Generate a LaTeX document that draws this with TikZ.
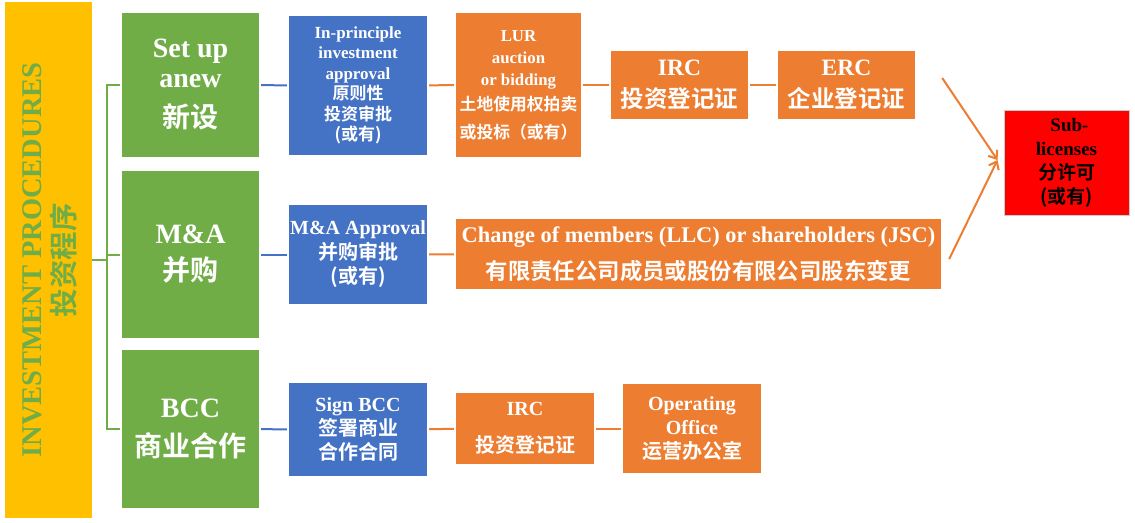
\documentclass[tikz,border=0pt]{standalone}
\usepackage{fontspec}
\setmainfont{Liberation Serif}
\newfontfamily\cjk{Noto Sans CJK SC}[BoldFont=* Bold]
\usetikzlibrary{arrows.meta,calc}
\definecolor{procyellow}{HTML}{FFC000}
\definecolor{stepgreen}{HTML}{70AD47}
\definecolor{stepblue}{HTML}{4472C4}
\definecolor{steporange}{HTML}{ED7D31}
\newcommand{\zh}[1]{{\cjk #1}}

\begin{document}
\begin{tikzpicture}[x=1pt,y=-1pt,
  box/.style={rectangle,inner sep=0pt,align=center,text=white},
  greenbox/.style={box,fill=stepgreen,minimum width=137pt,font=\bfseries\fontsize{28}{30}\selectfont},
  bluebox/.style={box,fill=stepblue,minimum width=138pt,font=\bfseries\fontsize{20}{24}\selectfont},
  orangebox/.style={box,fill=steporange,font=\bfseries\fontsize{20}{24}\selectfont},
  tree/.style={draw=stepgreen,line width=2pt,shorten >=2pt},
  bline/.style={draw=stepblue,line width=2pt,shorten >=2pt,shorten <=2pt},
  oline/.style={draw=steporange,line width=2pt,shorten >=2pt,shorten <=2pt},
  flow/.style={draw=steporange,line width=2pt,-{Straight Barb[length=7pt,width=11pt]}}]
  \useasboundingbox (0,0) rectangle (1135,522);
  \node[box,fill=procyellow,minimum width=87pt,minimum height=516pt] (proc) at (48.5,260) {};
  \node[rotate=90,align=center,text=stepgreen,font=\bfseries\fontsize{28.5}{33}\selectfont] (proclabel) at (50,260) {INVESTMENT PROCEDURES\\\zh{投资程序}};

  \node[greenbox,minimum height=144pt] (setup) at (190.5,85) {Set up\\anew\\[10pt]\zh{新设}};
  \node[greenbox,minimum height=167pt] (ma) at (190.5,254.5) {M\&A\\[7pt]\zh{并购}};
  \node[greenbox,minimum height=158pt] (bcc) at (190.5,429) {BCC\\[9pt]\zh{商业合作}};

  \node[bluebox,minimum height=139pt,font=\bfseries\fontsize{17}{20.5}\selectfont] (approve) at (358,85.5) {In-principle\\investment\\approval\\\zh{原则性}\\\zh{投资审批}\\\zh{(或有)}};
  \node[bluebox,minimum height=99pt] (maok) at (358,254.5) {M\&A Approval\\[1pt]\zh{并购审批}\\\zh{(或有)}};
  \node[bluebox,minimum height=93pt] (signbcc) at (358,429.5) {Sign BCC\\\zh{签署商业}\\\zh{合作合同}};

  \node[orangebox,minimum width=125pt,minimum height=144pt,font=\bfseries\fontsize{16.8}{22}\selectfont] (lur) at (518.5,85) {LUR\\auction\\or bidding\\[3pt]\zh{土地使用权拍卖}\\[6pt]\zh{或投标（或有）}};
  \node[orangebox,minimum width=137pt,minimum height=68pt,font=\bfseries\fontsize{23.5}{30}\selectfont] (irc) at (679.5,85) {IRC\\[2pt]\zh{投资登记证}};
  \node[orangebox,minimum width=137pt,minimum height=68pt,font=\bfseries\fontsize{23.5}{30}\selectfont] (erc) at (846.5,85) {ERC\\[2pt]\zh{企业登记证}};
  \node[orangebox,minimum width=485pt,minimum height=70pt,font=\bfseries\fontsize{22.4}{35}\selectfont] (change) at (698.5,254) {Change of members (LLC) or shareholders (JSC)\\[2pt]\zh{有限责任公司成员或股份有限公司股东变更}};
  \node[orangebox,minimum width=138pt,minimum height=71pt] (ircb) at (525,428.5) {IRC\\[13pt]\zh{投资登记证}};
  \node[orangebox,minimum width=138pt,minimum height=89pt] (office) at (692,428.5) {Operating\\Office\\\zh{运营办公室}};

  \node[box,fill=red,draw=black!20,line width=1pt,text=black,minimum width=125pt,minimum height=105pt,font=\bfseries\fontsize{19}{24}\selectfont] (sub) at (1066.5,162.5) {\hspace*{6pt}Sub-\\licenses\\\zh{分许可}\\\zh{(或有)}};

  \draw[tree] (proc.east) -- ++(15,0) |- (setup.west);
  \draw[tree] (proc.east) -- ++(15,0) |- (ma.west);
  \draw[tree] (proc.east) -- ++(15,0) |- (bcc.west);

  \draw[bline] (setup) -- (approve);
  \draw[bline] (ma) -- (maok);
  \draw[bline] (bcc) -- (signbcc);

  \draw[oline] (approve) -- (lur);
  \draw[oline] (lur) -- (irc);
  \draw[oline] (irc) -- (erc);
  \draw[oline] (maok) -- (change);
  \draw[oline] (signbcc) -- (ircb);
  \draw[oline] (ircb) -- (office);

  \coordinate (ercout) at ($(erc.east)+(27,-7)$);
  \coordinate (changeout) at ($(change.east)+(8,5)$);
  \coordinate (meet) at ($(sub.west)+(-6,-2.5)$);
  \draw[flow] (ercout) -- (meet);
  \draw[flow] (changeout) -- (meet);
\end{tikzpicture}
\end{document}
